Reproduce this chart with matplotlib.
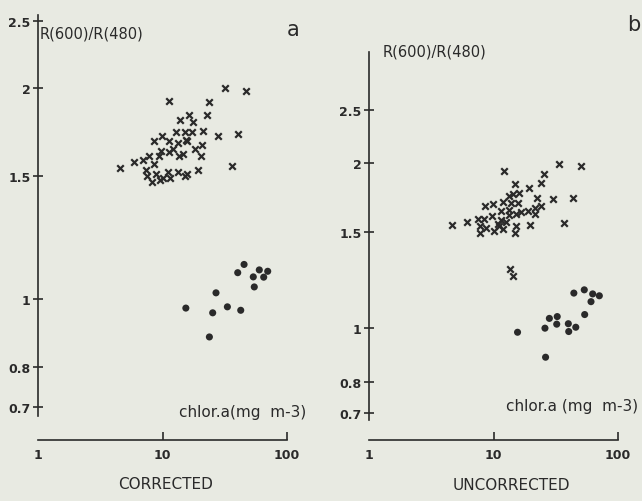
import matplotlib
matplotlib.use("Agg")
import matplotlib.pyplot as plt

# ---- panel a : CORRECTED ----
a_cross_chl = [4.56, 5.90, 6.97, 7.79, 7.36, 8.55, 9.37, 7.51, 8.24, 8.87, 9.55, 10.1,
               11.1, 11.5, 13.3, 15.2, 8.55, 9.91, 9.72, 11.3, 11.3, 12.1, 12.8, 13.3,
               13.6, 14.6, 15.2, 15.5, 17.3, 13.8, 16.3, 17.6, 11.3, 18.2, 19.3, 20.4,
               20.8, 21.2, 22.8, 23.6, 27.9, 31.8, 36.2, 40.4, 46.9, 15.7, 15.7]
a_cross_ratio = [1.54, 1.57, 1.58, 1.60, 1.53, 1.56, 1.60, 1.50, 1.47, 1.51, 1.48, 1.49,
                 1.52, 1.49, 1.52, 1.50, 1.68, 1.71, 1.63, 1.68, 1.62, 1.64, 1.73, 1.67,
                 1.60, 1.61, 1.73, 1.69, 1.73, 1.80, 1.83, 1.79, 1.92, 1.64, 1.53, 1.60,
                 1.66, 1.74, 1.83, 1.91, 1.71, 2.00, 1.55, 1.72, 1.98, 1.68, 1.51]
a_dot_chl = [45.2, 40.2, 59.9, 70.0, 53.6, 65.0, 54.6, 26.9, 15.4, 25.3, 33.2, 42.5, 23.8]
a_dot_ratio = [1.12, 1.09, 1.10, 1.095, 1.075, 1.074, 1.04, 1.02, 0.97, 0.955, 0.974, 0.963, 0.882]

# ---- panel b : UNCORRECTED ----
b_cross_chl = [4.64, 6.18, 7.51, 8.44, 7.83, 8.71, 7.86, 9.67, 10.1, 10.8, 11.5, 12.0,
               11.1, 12.6, 13.3, 8.55, 9.91, 12.0, 13.3, 13.8, 14.3, 15.6, 16.1, 15.2,
               15.2, 15.0, 11.5, 16.6, 18.9, 19.4, 19.6, 21.5, 22.4, 24.1, 23.9, 25.4,
               12.2, 15.0, 30.2, 33.8, 43.3, 37.0, 50.9, 21.5, 13.4, 13.6, 14.3]
b_cross_ratio = [1.543, 1.562, 1.587, 1.586, 1.541, 1.527, 1.491, 1.606, 1.504, 1.548, 1.574, 1.521,
                 1.539, 1.562, 1.612, 1.675, 1.690, 1.701, 1.748, 1.694, 1.756, 1.696, 1.768, 1.615,
                 1.536, 1.494, 1.637, 1.634, 1.641, 1.804, 1.545, 1.616, 1.730, 1.671, 1.839, 1.912,
                 1.939, 1.836, 1.722, 1.994, 1.730, 1.555, 1.982, 1.658, 1.646, 1.284, 1.245]
b_dot_chl = [15.6, 26.2, 25.9, 28.1, 32.5, 32.2, 39.9, 40.2, 45.8, 44.2, 53.6, 54.0, 62.6, 70.8, 60.7]
b_dot_ratio = [0.984, 0.886, 1.001, 1.043, 1.051, 1.018, 1.020, 0.987, 1.005, 1.160, 1.176, 1.060,
               1.156, 1.147, 1.119]

y_ticks = [0.7, 0.8, 1, 1.5, 2, 2.5]
y_labels = ["0.7", "0.8", "1", "1.5", "2", "2.5"]
x_ticks = [1, 10, 100]
x_labels = ["1", "10", "100"]

paper = "#e8eae2"
ink = "#2a2a2a"

W, H = 642, 502
plt.rcParams['font.family'] = 'DejaVu Sans'
fig = plt.figure(figsize=(W / 100, H / 100), dpi=100, facecolor=paper)


def pos(x, y):
    return x / W, 1 - y / H


def panel(rect, ylim, outward, cx, cy, dx, dy):
    ax = fig.add_axes(rect)
    ax.set_facecolor(paper)
    ax.set_xscale("log")
    ax.set_yscale("log")
    ax.set_xlim(1, 100)
    ax.set_ylim(*ylim)
    ax.scatter(cx, cy, marker="x", s=22, linewidths=1.6, color=ink, zorder=3)
    ax.scatter(dx, dy, marker="o", s=26, color=ink, edgecolors="none", zorder=3)
    for s in ["top", "right"]:
        ax.spines[s].set_visible(False)
    ax.spines["bottom"].set_position(("outward", outward))
    for s in ["left", "bottom"]:
        ax.spines[s].set_color(ink)
        ax.spines[s].set_linewidth(1.2)
    ax.set_yticks(y_ticks)
    ax.set_yticklabels(y_labels)
    ax.set_xticks(x_ticks)
    ax.set_xticklabels(x_labels)
    ax.yaxis.set_minor_locator(plt.NullLocator())
    ax.xaxis.set_minor_locator(plt.NullLocator())
    ax.tick_params(axis="y", direction="inout", length=7, width=1.2, color=ink,
                   labelsize=9, pad=2, labelcolor=ink)
    ax.tick_params(axis="x", direction="in", length=6, width=1.2, color=ink,
                   labelsize=9, pad=6, labelcolor=ink)
    for lab in ax.get_xticklabels() + ax.get_yticklabels():
        lab.set_fontweight("bold")
    ax.xaxis.get_major_ticks()[0].tick1line.set_visible(False)
    return ax


# panel a
panel([38 / W, 1 - 416.9 / H, 249 / W, 401.2 / H], (0.68, 2.55), 17.3,
      a_cross_chl, a_cross_ratio, a_dot_chl, a_dot_ratio)
# panel b
panel([369 / W, 1 - 421.2 / H, 249 / W, 368.6 / H], (0.68, 3.2), 14.3,
      b_cross_chl, b_cross_ratio, b_dot_chl, b_dot_ratio)

fig.text(*pos(40, 34), "R(600)/R(480)", fontsize=10.5, color=ink, ha="left", va="center")
fig.text(*pos(383, 52), "R(600)/R(480)", fontsize=10.5, color=ink, ha="left", va="center")
fig.text(*pos(306, 413), "chlor.a(mg  m-3)", fontsize=11, color=ink, ha="right", va="center")
fig.text(*pos(638, 407), "chlor.a (mg  m-3)", fontsize=11, color=ink, ha="right", va="center")
fig.text(*pos(166, 485), "CORRECTED", fontsize=11, color=ink, ha="center", va="center")
fig.text(*pos(511, 486), "UNCORRECTED", fontsize=11, color=ink, ha="center", va="center")
fig.text(*pos(293, 30), "a", fontsize=15, color=ink, ha="center", va="center")
fig.text(*pos(640, 25), "b", fontsize=15, color=ink, ha="right", va="center")

fig.savefig("out.png", dpi=100, facecolor=paper)
